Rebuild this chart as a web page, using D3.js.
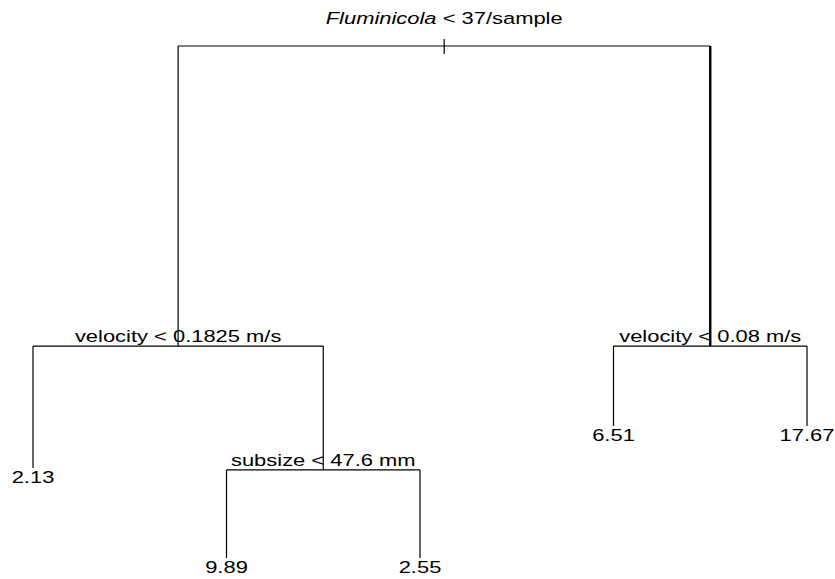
<!DOCTYPE html>
<html lang="en">
<head>
    <meta charset="UTF-8">
    <title>Regression tree</title>
    <script src="https://d3js.org/d3.v7.min.js"></script>
    <style>
        html, body { margin: 0; padding: 0; background: #fff; }
        text { font-family: "Liberation Sans", Arial, sans-serif; fill: #000; }
    </style>
</head>
<body>
    <svg id="tree" width="835" height="579"></svg>

    <script>
        // Tree nodes (children listed left to right under each parent)
        const nodeIds = ['root', 'velL', 'velR', 'leaf213', 'sub', 'leaf651', 'leaf1767', 'leaf989', 'leaf255'];
        const nodeParents = [null, 'root', 'root', 'velL', 'velL', 'velR', 'velR', 'sub', 'sub'];
        const nodeLabels = ['< 37/sample', 'velocity < 0.1825 m/s', 'velocity < 0.08 m/s', '2.13',
                            'subsize < 47.6 mm', '6.51', '17.67', '9.89', '2.55'];
        // relative deviance, sets the height of each node
        const nodeDeviance = [100, 41.4, 41.4, 17.6, 17.2, 25.8, 25.8, 0, 0];
        const rootItalic = 'Fluminicola';

        const svg = d3.select('#tree');

        const table = nodeIds.map((id, i) => ({
            id: id, parent: nodeParents[i], label: nodeLabels[i], dev: nodeDeviance[i]
        }));
        const root = d3.stratify().id(d => d.id).parentId(d => d.parent)(table);

        // leaves get positions 1..n, splits sit at the middle of their children
        let leafCount = 0;
        root.eachBefore(n => { if (!n.children) n.pos = ++leafCount; });
        root.eachAfter(n => { if (n.children) n.pos = d3.mean(n.children, c => c.pos); });

        const x = d3.scaleLinear().domain([1, leafCount]).range([33, 807]);
        const y = d3.scaleLinear().domain([0, 100]).range([558, 46]);

        const g = svg.append('g');
        const stretch = 1.29; // wide letterforms of the original

        // branches
        root.each(n => {
            if (!n.children) return;
            const left = n.children[0], right = n.children[n.children.length - 1];
            g.append('line')
                .attr('x1', x(left.pos)).attr('x2', x(right.pos))
                .attr('y1', y(n.data.dev)).attr('y2', y(n.data.dev))
                .attr('stroke', '#000').attr('stroke-width', 1.2);
            n.children.forEach(c => {
                g.append('line')
                    .attr('x1', x(c.pos)).attr('x2', x(c.pos))
                    .attr('y1', y(n.data.dev)).attr('y2', y(c.data.dev))
                    .attr('stroke', '#000')
                    .attr('stroke-width', n === root && c === right ? 2.4 : 1.2);
            });
        });

        // small tick marking the root
        g.append('line')
            .attr('x1', x(root.pos)).attr('x2', x(root.pos))
            .attr('y1', y(root.data.dev) - 7).attr('y2', y(root.data.dev) + 8)
            .attr('stroke', '#000').attr('stroke-width', 1.2);

        // labels
        root.each(n => {
            let dy;
            if (n === root) dy = -22;
            else if (n.children) dy = -4;
            else dy = 15;
            const t = g.append('text')
                .attr('transform', `translate(${x(n.pos)},${y(n.data.dev) + dy}) scale(${stretch},1)`)
                .attr('text-anchor', 'middle')
                .style('font-size', '17px');
            if (n === root) {
                t.append('tspan').style('font-style', 'italic').text(rootItalic);
                t.append('tspan').text(' ' + n.data.label);
            } else {
                t.text(n.data.label);
            }
        });
    </script>
</body>
</html>
